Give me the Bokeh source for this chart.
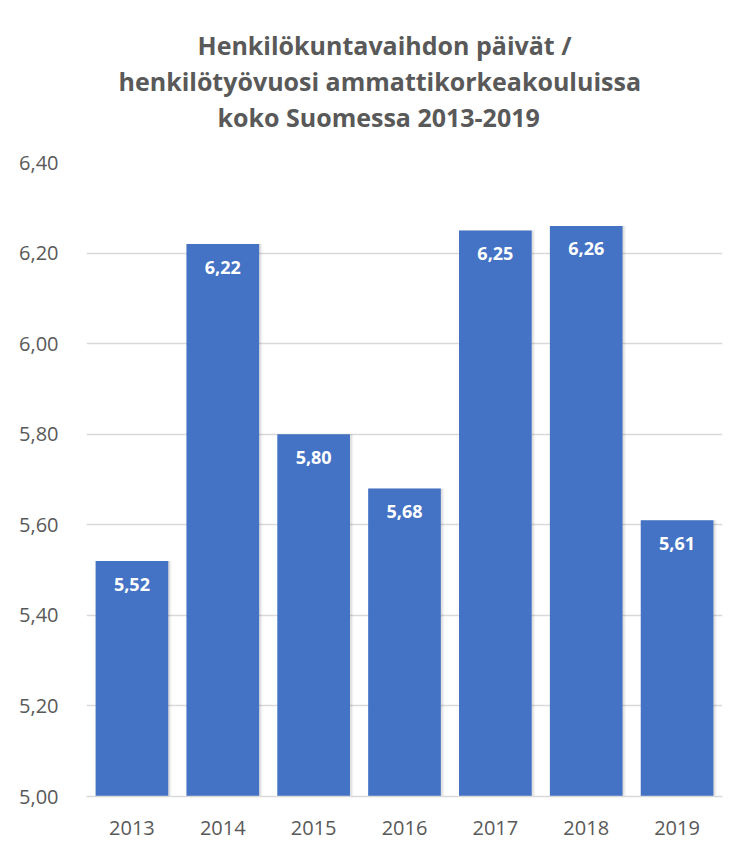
from bokeh.plotting import figure
from bokeh.models import ColumnDataSource, FixedTicker, CustomJSTickFormatter, Range1d, Title
from bokeh.core.properties import value
from bokeh.transform import dodge
from bokeh.embed import file_html
from bokeh.resources import INLINE

years = ["2013", "2014", "2015", "2016", "2017", "2018", "2019"]
values = [5.52, 6.22, 5.80, 5.68, 6.25, 6.26, 5.61]
y_ticks = [5.0, 5.2, 5.4, 5.6, 5.8, 6.0, 6.2, 6.4]
title_lines = ["Henkilökuntavaihdon päivät /",
               "henkilötyövuosi ammattikorkeakouluissa",
               "koko Suomessa 2013-2019"]
title_offsets = [111, 32, 131]

labels = [f"{v:.2f}".replace(".", ",") for v in values]
src = ColumnDataSource(dict(x=years, top=values, lab=labels))

p = figure(x_range=years, y_range=Range1d(5.0, 6.4), width=740, height=840, title=None,
           output_backend="svg", toolbar_location=None,
           min_border_left=86, min_border_right=18, min_border_top=162, min_border_bottom=44)

# spacer between the title block and the plot frame
p.add_layout(Title(text=" ", text_font_size="10px", standoff=16), "above")
for line, off in zip(reversed(title_lines), reversed(title_offsets)):
    t = Title(text=line, align="left", offset=off, text_font="Open Sans",
              text_font_style="bold", text_font_size="25px", text_color="#595959",
              text_line_height=1.1, standoff=0)
    p.add_layout(t, "above")

# soft shadow behind the bars
p.vbar(x=dodge("x", 0.02, range=p.x_range), top="top", bottom=5.0, width=0.83, source=src,
       fill_color="#000000", fill_alpha=0.05, line_color=None)
p.vbar(x=dodge("x", 0.015, range=p.x_range), top="top", bottom=5.0, width=0.81, source=src,
       fill_color="#000000", fill_alpha=0.07, line_color=None)

p.vbar(x="x", top="top", bottom=5.0, width=0.8, source=src, fill_color="#4472C4", line_color=None)
p.text(x="x", y="top", text="lab", source=src, text_align="center", text_baseline="middle",
       y_offset=23, text_color="white", text_font=value("Open Sans"), text_font_style="bold",
       text_font_size="18px")

p.outline_line_color = None
p.xgrid.grid_line_color = None
p.ygrid.grid_line_color = "#d9d9d9"
p.ygrid.grid_line_width = 1.5

p.yaxis.ticker = FixedTicker(ticks=y_ticks)
p.yaxis.formatter = CustomJSTickFormatter(code="return tick.toFixed(2).replace('.', ',');")
p.yaxis.axis_line_color = None
p.yaxis.major_tick_line_color = None
p.yaxis.minor_tick_line_color = None
p.yaxis.major_label_standoff = 22
p.xaxis.axis_line_color = "#d9d9d9"
p.xaxis.axis_line_width = 1.5
p.xaxis.major_tick_line_color = None
p.xaxis.major_label_standoff = 18
for ax in (p.xaxis, p.yaxis):
    ax.major_label_text_font = "Open Sans"
    ax.major_label_text_font_size = "20px"
    ax.major_label_text_color = "#595959"

open("out.html", "w").write(file_html(p, INLINE))
